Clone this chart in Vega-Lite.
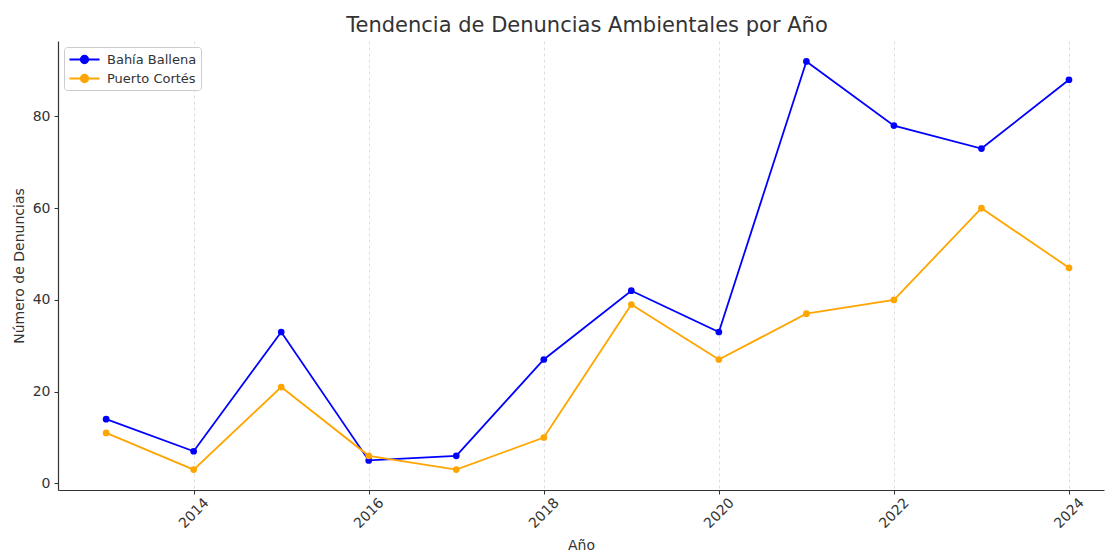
{
  "$schema": "https://vega.github.io/schema/vega-lite/v6.json",
  "width": 1046,
  "height": 449,
  "autosize": {"type": "none"},
  "padding": {"left": 58, "top": 41, "right": 1, "bottom": 62},
  "background": "white",
  "title": {
    "text": "Tendencia de Denuncias Ambientales por Año",
    "font": "DejaVu Sans",
    "fontSize": 21,
    "fontWeight": "normal",
    "color": "#333333",
    "anchor": "middle",
    "dx": 6,
    "baseline": "alphabetic",
    "offset": 9,
    "dy": 21
  },
  "data": {
    "values": [
      {"year": 2013, "serie": "Bahía Ballena", "denuncias": 14},
      {"year": 2014, "serie": "Bahía Ballena", "denuncias": 7},
      {"year": 2015, "serie": "Bahía Ballena", "denuncias": 33},
      {"year": 2016, "serie": "Bahía Ballena", "denuncias": 5},
      {"year": 2017, "serie": "Bahía Ballena", "denuncias": 6},
      {"year": 2018, "serie": "Bahía Ballena", "denuncias": 27},
      {"year": 2019, "serie": "Bahía Ballena", "denuncias": 42},
      {"year": 2020, "serie": "Bahía Ballena", "denuncias": 33},
      {"year": 2021, "serie": "Bahía Ballena", "denuncias": 92},
      {"year": 2022, "serie": "Bahía Ballena", "denuncias": 78},
      {"year": 2023, "serie": "Bahía Ballena", "denuncias": 73},
      {"year": 2024, "serie": "Bahía Ballena", "denuncias": 88},
      {"year": 2013, "serie": "Puerto Cortés", "denuncias": 11},
      {"year": 2014, "serie": "Puerto Cortés", "denuncias": 3},
      {"year": 2015, "serie": "Puerto Cortés", "denuncias": 21},
      {"year": 2016, "serie": "Puerto Cortés", "denuncias": 6},
      {"year": 2017, "serie": "Puerto Cortés", "denuncias": 3},
      {"year": 2018, "serie": "Puerto Cortés", "denuncias": 10},
      {"year": 2019, "serie": "Puerto Cortés", "denuncias": 39},
      {"year": 2020, "serie": "Puerto Cortés", "denuncias": 27},
      {"year": 2021, "serie": "Puerto Cortés", "denuncias": 37},
      {"year": 2022, "serie": "Puerto Cortés", "denuncias": 40},
      {"year": 2023, "serie": "Puerto Cortés", "denuncias": 60},
      {"year": 2024, "serie": "Puerto Cortés", "denuncias": 47}
    ]
  },
  "mark": {"type": "line", "strokeWidth": 1.8, "point": {"filled": true, "size": 45}},
  "encoding": {
    "x": {
      "field": "year",
      "type": "quantitative",
      "title": "Año",
      "scale": {"domain": [2012.45, 2024.4], "nice": false, "zero": false},
      "axis": {
        "values": [2014, 2016, 2018, 2020, 2022, 2024],
        "format": "d",
        "labelAngle": -45,
        "labelAlign": "center",
        "labelBaseline": "middle",
        "labelPadding": 19,
        "grid": true,
        "gridDash": [3, 3],
        "gridColor": "#d0d0d0",
        "gridWidth": 0.7,
        "titlePadding": 8
      }
    },
    "y": {
      "field": "denuncias",
      "type": "quantitative",
      "title": "Número de Denuncias",
      "scale": {"domain": [-1.45, 96.45], "nice": false, "zero": false},
      "axis": {
        "values": [0, 20, 40, 60, 80],
        "grid": false,
        "labelPadding": 4,
        "titlePadding": 6
      }
    },
    "color": {
      "field": "serie",
      "type": "nominal",
      "scale": {"domain": ["Bahía Ballena", "Puerto Cortés"], "range": ["#0000ff", "#ffa500"]},
      "legend": {
        "title": null,
        "orient": "none",
        "legendX": 6,
        "legendY": 6,
        "fillColor": "white",
        "strokeColor": "#cccccc",
        "cornerRadius": 3,
        "padding": 4,
        "symbolType": "M-2,0L2,0M-0.5,0A0.5,0.5 0 1,0 0.5,0A0.5,0.5 0 1,0 -0.5,0Z",
        "symbolSize": 225,
        "symbolStrokeWidth": 1.8,
        "symbolOffset": 8,
        "labelFont": "DejaVu Sans",
        "labelFontSize": 13,
        "labelColor": "#333333",
        "labelOffset": 14,
        "rowPadding": 3
      }
    }
  },
  "config": {
    "view": {"stroke": null},
    "font": "DejaVu Sans",
    "axis": {
      "domainColor": "#333333",
      "domainWidth": 1.2,
      "tickColor": "#333333",
      "tickSize": 4,
      "labelFont": "DejaVu Sans",
      "labelFontSize": 14,
      "labelColor": "#333333",
      "titleFont": "DejaVu Sans",
      "titleFontSize": 14,
      "titleFontWeight": "normal",
      "titleColor": "#333333"
    }
  }
}
